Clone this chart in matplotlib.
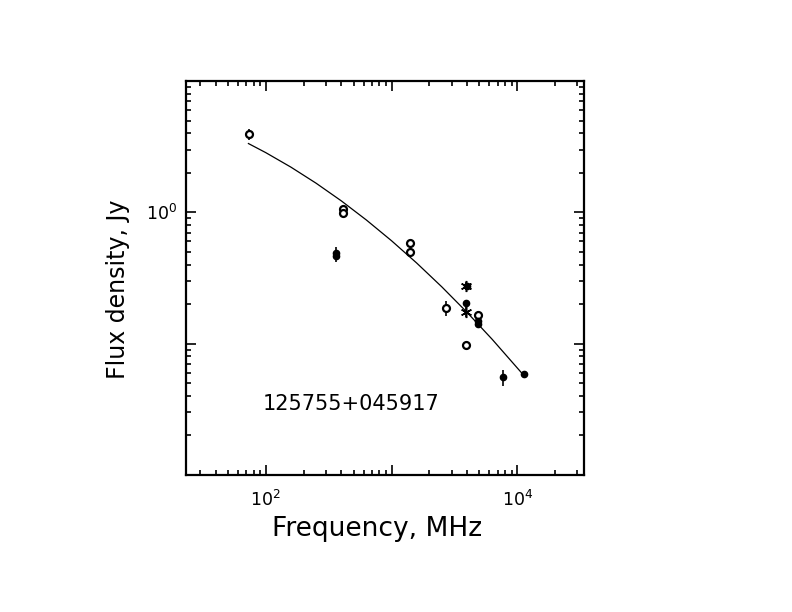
import matplotlib
matplotlib.use("Agg")
import matplotlib.pyplot as plt
from matplotlib.ticker import FixedLocator, FixedFormatter, LogLocator, NullFormatter

# ---- data ----
open_freq = [74, 408, 408, 1400, 1400, 2700, 3900, 4850]
open_flux = [3.94, 1.054, 0.983, 0.583, 0.497, 0.187, 0.0983, 0.166]
open_err = [0.40, 0.0, 0.0, 0.0, 0.0, 0.024, 0.0, 0.012]

filled_freq = [365, 365, 3900, 3950, 4850, 4850, 7700, 11200]
filled_flux = [0.49, 0.466, 0.203, 0.277, 0.150, 0.141, 0.0553, 0.0587]
filled_err = [0.05, 0.05, 0.0, 0.0, 0.008, 0.008, 0.0078, 0.0]

star_freq = [3900, 3900]
star_flux = [0.277, 0.175]
star_err = [0.02, 0.015]

fit_freq = [72.8, 100, 158.5, 251.2, 398.1, 631, 1000, 1585, 2512, 3981, 6310, 10965]
fit_flux = [3.342, 2.849, 2.209, 1.667, 1.224, 0.874, 0.6076, 0.411, 0.2705, 0.1732, 0.1079, 0.059]

source_name = "125755+045917"
x_label = "Frequency, MHz"
y_label = "Flux density, Jy"
x_major = [1e2, 1e3, 1e4]
x_major_labels = ["$10^2$", "", "$10^4$"]
y_major = [1e-2, 1e-1, 1e0, 1e1]
y_major_labels = ["", "", "$10^0$", ""]

fig = plt.figure(figsize=(7.92, 6.12), dpi=100)
ax = fig.add_axes([0.2348, 0.2239, 0.7374 - 0.2348, 0.8676 - 0.2239])
ax.set_xscale("log")
ax.set_yscale("log")
ax.set_xlim(23.2, 33900)
ax.set_ylim(0.01, 10)

ax.plot(fit_freq, fit_flux, color="black", lw=0.9)

ax.errorbar(open_freq, open_flux, yerr=open_err, fmt="o", ms=5, mfc="white",
            mec="black", mew=1.6, ecolor="black", elinewidth=1.2, capsize=0)
ax.errorbar(filled_freq, filled_flux, yerr=filled_err, fmt="o", ms=4.5, mfc="black",
            mec="black", ecolor="black", elinewidth=1.2, capsize=0)
ax.errorbar(star_freq, star_flux, yerr=star_err, fmt="none",
            ecolor="black", elinewidth=1.2, capsize=0)
ax.plot(star_freq, star_flux, ls="none", marker=(6, 2, 0), ms=8, mec="black", mew=1.1)

for s in ax.spines.values():
    s.set_linewidth(1.6)

ax.xaxis.set_major_locator(FixedLocator(x_major))
ax.xaxis.set_major_formatter(FixedFormatter(x_major_labels))
ax.xaxis.set_minor_locator(LogLocator(base=10, subs=range(2, 10), numticks=20))
ax.xaxis.set_minor_formatter(NullFormatter())
ax.yaxis.set_major_locator(FixedLocator(y_major))
ax.yaxis.set_major_formatter(FixedFormatter(y_major_labels))
ax.yaxis.set_minor_locator(LogLocator(base=10, subs=range(2, 10), numticks=20))
ax.yaxis.set_minor_formatter(NullFormatter())

ax.tick_params(which="both", direction="in", top=True, right=True, width=1.2)
ax.tick_params(which="major", length=7)
ax.tick_params(which="minor", length=3.5)
ax.tick_params(axis="x", which="major", pad=11, labelsize=12.5)
ax.tick_params(axis="y", which="major", pad=6.5, labelsize=12.5)

ax.set_xlabel(x_label, fontsize=19)
ax.set_ylabel(y_label, fontsize=17)
ax.xaxis.set_label_coords((377 - 186) / (584 - 186), -(536 - 475) / (475 - 81), transform=ax.transAxes)
ax.yaxis.set_label_coords(-(186 - 118) / (584 - 186), (475 - 289) / (475 - 81))
ax.xaxis.label.set_va("baseline")
ax.yaxis.label.set_va("center")

ax.text((351 - 186) / (584 - 186), (475 - 404) / (475 - 81), source_name,
        transform=ax.transAxes, ha="center", va="center", fontsize=15)

fig.savefig("out.png", dpi=100)
